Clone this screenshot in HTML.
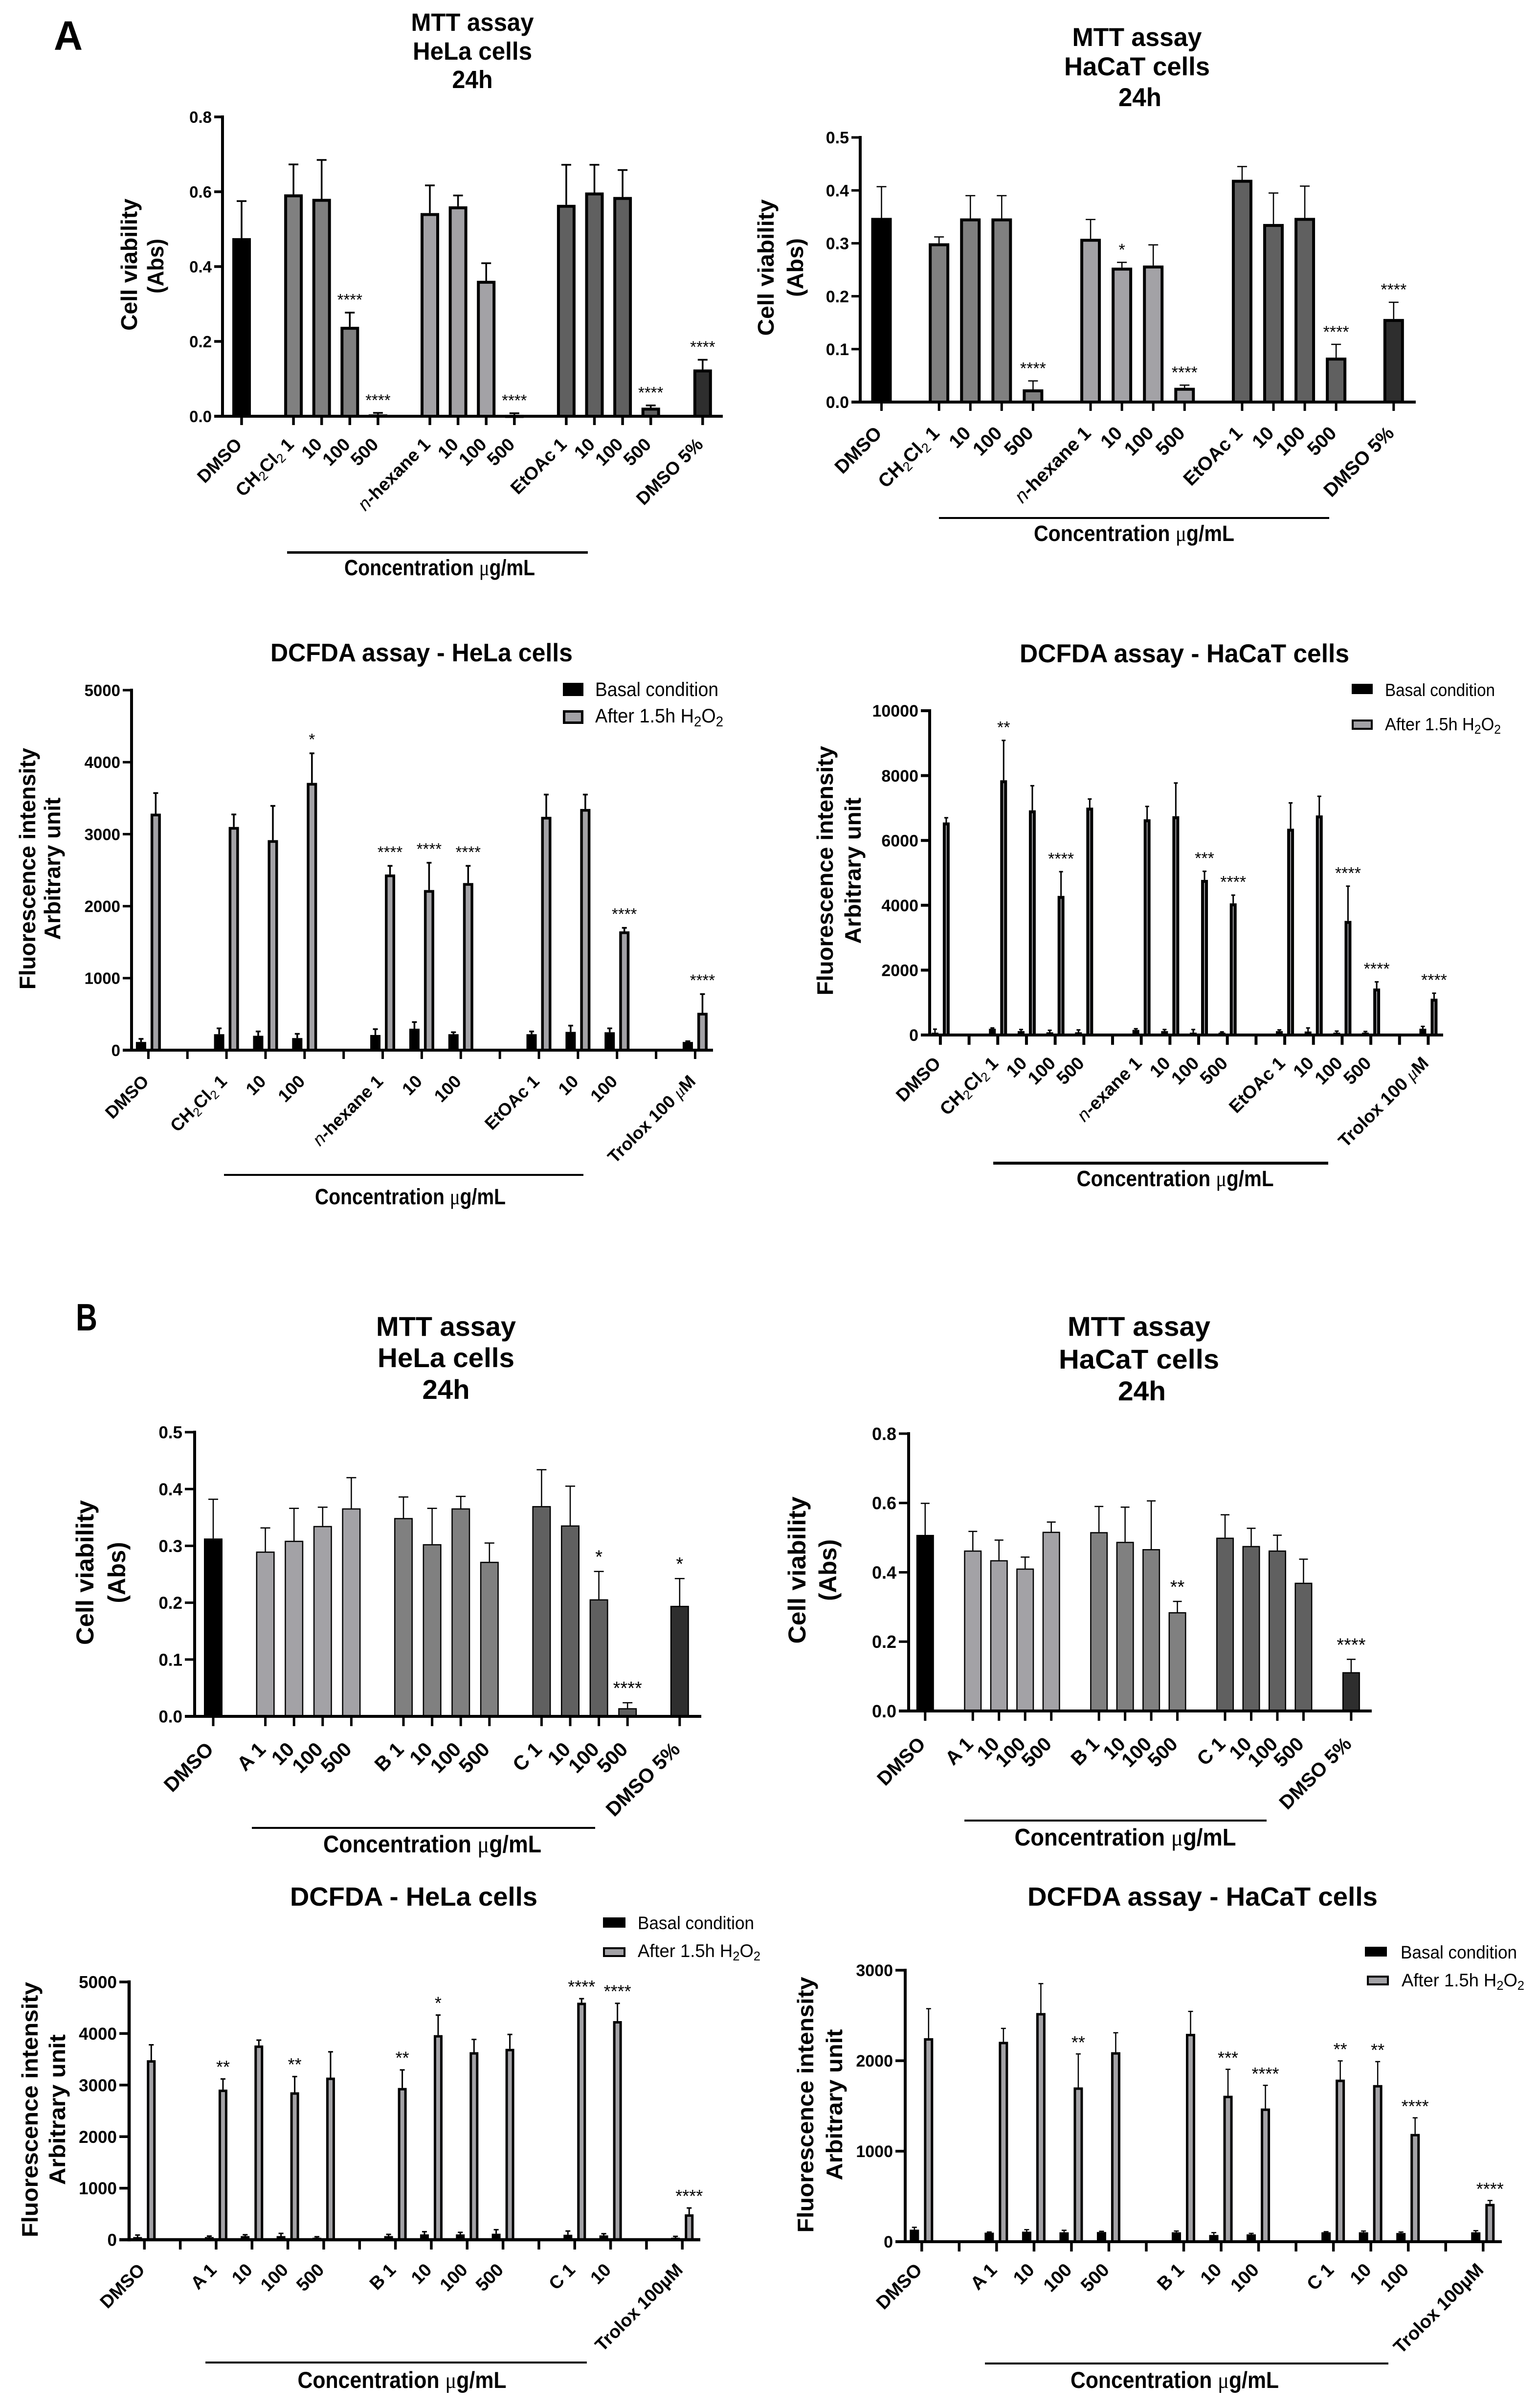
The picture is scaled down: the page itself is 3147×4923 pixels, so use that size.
<!DOCTYPE html>
<html lang="en">
<head>
<meta charset="utf-8">
<title>MTT and DCFDA assay bar charts</title>
<style>
html,body{margin:0;padding:0;background:#fff;width:3147px;height:4923px;overflow:hidden}
svg{display:block}
text{font-family:"Liberation Sans",sans-serif;fill:#000}
.bold{font-weight:700}
</style>
</head>
<body>
<svg id="figure" xmlns="http://www.w3.org/2000/svg" width="3147" height="4923" viewBox="0 0 3147 4923">
<rect width="3147" height="4923" fill="#fff"/>

<text class="bold" x="110" y="102" font-size="84" textLength="59" lengthAdjust="spacingAndGlyphs">A</text>
<text class="bold" x="155" y="2720" font-size="78" textLength="44" lengthAdjust="spacingAndGlyphs">B</text>

<!-- Chart A1 -->
<g id="a1">
<g text-anchor="middle">
<text class="bold" x="966" y="63" font-size="51" textLength="251" lengthAdjust="spacingAndGlyphs">MTT assay</text>
<text class="bold" x="966" y="122" font-size="51" textLength="244" lengthAdjust="spacingAndGlyphs">HeLa cells</text>
<text class="bold" x="966" y="180" font-size="51" textLength="83" lengthAdjust="spacingAndGlyphs">24h</text>
</g>
<text class="bold" text-anchor="middle" transform="translate(280,541) rotate(-90)" font-size="46" textLength="270" lengthAdjust="spacingAndGlyphs">Cell viability</text>
<text class="bold" text-anchor="middle" transform="translate(334,544) rotate(-90)" font-size="46" textLength="112" lengthAdjust="spacingAndGlyphs">(Abs)</text>
<rect x="587" y="1127" width="615" height="5" fill="#000"/>
<text class="bold" x="899" y="1176" text-anchor="middle" font-size="45" textLength="390" lengthAdjust="spacingAndGlyphs">Concentration <tspan font-weight="400" font-family="Liberation Serif">μ</tspan>g/mL</text>
</g>

<!-- Chart A2 -->
<g id="a2">
<g text-anchor="middle">
<text class="bold" x="2325" y="94" font-size="53" textLength="265" lengthAdjust="spacingAndGlyphs">MTT assay</text>
<text class="bold" x="2325" y="154" font-size="53" textLength="298" lengthAdjust="spacingAndGlyphs">HaCaT cells</text>
<text class="bold" x="2331" y="217" font-size="53" textLength="88" lengthAdjust="spacingAndGlyphs">24h</text>
</g>
<text class="bold" text-anchor="middle" transform="translate(1582,547) rotate(-90)" font-size="46" textLength="279" lengthAdjust="spacingAndGlyphs">Cell viability</text>
<text class="bold" text-anchor="middle" transform="translate(1642,547) rotate(-90)" font-size="46" textLength="120" lengthAdjust="spacingAndGlyphs">(Abs)</text>
<rect x="1920" y="1057" width="798" height="4" fill="#000"/>
<text class="bold" x="2319" y="1106" text-anchor="middle" font-size="45" textLength="410" lengthAdjust="spacingAndGlyphs">Concentration <tspan font-weight="400" font-family="Liberation Serif">μ</tspan>g/mL</text>
</g>

<!-- Chart A3 -->
<g id="a3">
<text class="bold" x="862" y="1352" text-anchor="middle" font-size="52" textLength="618" lengthAdjust="spacingAndGlyphs">DCFDA assay - HeLa cells</text>
<text class="bold" text-anchor="middle" transform="translate(72,1776) rotate(-90)" font-size="46" textLength="494" lengthAdjust="spacingAndGlyphs">Fluorescence intensity</text>
<text class="bold" text-anchor="middle" transform="translate(123,1776) rotate(-90)" font-size="46" textLength="291" lengthAdjust="spacingAndGlyphs">Arbitrary unit</text>
<g>
<rect x="1151" y="1396" width="42" height="27" fill="#000"/>
<text x="1217" y="1423" font-size="40" textLength="252" lengthAdjust="spacingAndGlyphs">Basal condition</text>
<rect x="1153.5" y="1454.5" width="37" height="23" fill="#a3a2a6" stroke="#000" stroke-width="5"/>
<text x="1217" y="1477" font-size="40" textLength="262" lengthAdjust="spacingAndGlyphs">After 1.5h H<tspan dy="8" font-size="29">2</tspan><tspan dy="-8">O</tspan><tspan dy="8" font-size="29">2</tspan></text>
</g>
<rect x="458" y="2400" width="735" height="4" fill="#000"/>
<text class="bold" x="839" y="2462" text-anchor="middle" font-size="45" textLength="390" lengthAdjust="spacingAndGlyphs">Concentration <tspan font-weight="400" font-family="Liberation Serif">μ</tspan>g/mL</text>
</g>

<!-- Chart A4 -->
<g id="a4">
<text class="bold" x="2422" y="1354" text-anchor="middle" font-size="53" textLength="674" lengthAdjust="spacingAndGlyphs">DCFDA assay - HaCaT cells</text>
<text class="bold" text-anchor="middle" transform="translate(1703,1780) rotate(-90)" font-size="46" textLength="510" lengthAdjust="spacingAndGlyphs">Fluorescence intensity</text>
<text class="bold" text-anchor="middle" transform="translate(1760,1780) rotate(-90)" font-size="46" textLength="299" lengthAdjust="spacingAndGlyphs">Arbitrary unit</text>
<g>
<rect x="2764" y="1398" width="43" height="21" fill="#000"/>
<text x="2832" y="1423" font-size="36" textLength="225" lengthAdjust="spacingAndGlyphs">Basal condition</text>
<rect x="2766" y="1473" width="39" height="17" fill="#a3a2a6" stroke="#000" stroke-width="4"/>
<text x="2832" y="1493" font-size="36" textLength="237" lengthAdjust="spacingAndGlyphs">After 1.5h H<tspan dy="7" font-size="26">2</tspan><tspan dy="-7">O</tspan><tspan dy="7" font-size="26">2</tspan></text>
</g>
<rect x="2031" y="2375" width="685" height="6" fill="#000"/>
<text class="bold" x="2403" y="2425" text-anchor="middle" font-size="45" textLength="403" lengthAdjust="spacingAndGlyphs">Concentration <tspan font-weight="400" font-family="Liberation Serif">μ</tspan>g/mL</text>
</g>

<!-- Chart B1 -->
<g id="b1">
<g text-anchor="middle">
<text class="bold" x="912" y="2731" font-size="56" textLength="286" lengthAdjust="spacingAndGlyphs">MTT assay</text>
<text class="bold" x="912" y="2795" font-size="56" textLength="280" lengthAdjust="spacingAndGlyphs">HeLa cells</text>
<text class="bold" x="912" y="2860" font-size="56" textLength="97" lengthAdjust="spacingAndGlyphs">24h</text>
</g>
<text class="bold" text-anchor="middle" transform="translate(191,3215) rotate(-90)" font-size="50" textLength="296" lengthAdjust="spacingAndGlyphs">Cell viability</text>
<text class="bold" text-anchor="middle" transform="translate(256,3215) rotate(-90)" font-size="50" textLength="125" lengthAdjust="spacingAndGlyphs">(Abs)</text>
<rect x="515" y="3735" width="702" height="4" fill="#000"/>
<text class="bold" x="884" y="3787" text-anchor="middle" font-size="49" textLength="446" lengthAdjust="spacingAndGlyphs">Concentration <tspan font-weight="400" font-family="Liberation Serif">μ</tspan>g/mL</text>
</g>

<!-- Chart B2 -->
<g id="b2">
<g text-anchor="middle">
<text class="bold" x="2329" y="2731" font-size="56" textLength="292" lengthAdjust="spacingAndGlyphs">MTT assay</text>
<text class="bold" x="2329" y="2798" font-size="56" textLength="328" lengthAdjust="spacingAndGlyphs">HaCaT cells</text>
<text class="bold" x="2335" y="2863" font-size="56" textLength="98" lengthAdjust="spacingAndGlyphs">24h</text>
</g>
<text class="bold" text-anchor="middle" transform="translate(1647,3210) rotate(-90)" font-size="50" textLength="301" lengthAdjust="spacingAndGlyphs">Cell viability</text>
<text class="bold" text-anchor="middle" transform="translate(1710,3210) rotate(-90)" font-size="50" textLength="126" lengthAdjust="spacingAndGlyphs">(Abs)</text>
<rect x="1972" y="3720" width="618" height="4" fill="#000"/>
<text class="bold" x="2301" y="3773" text-anchor="middle" font-size="49" textLength="453" lengthAdjust="spacingAndGlyphs">Concentration <tspan font-weight="400" font-family="Liberation Serif">μ</tspan>g/mL</text>
</g>

<!-- Chart B3 -->
<g id="b3">
<text class="bold" x="846" y="3896" text-anchor="middle" font-size="54" textLength="506" lengthAdjust="spacingAndGlyphs">DCFDA - HeLa cells</text>
<text class="bold" text-anchor="middle" transform="translate(77,4313) rotate(-90)" font-size="46" textLength="522" lengthAdjust="spacingAndGlyphs">Fluorescence intensity</text>
<text class="bold" text-anchor="middle" transform="translate(133,4313) rotate(-90)" font-size="46" textLength="308" lengthAdjust="spacingAndGlyphs">Arbitrary unit</text>
<g>
<rect x="1233" y="3920" width="46" height="21" fill="#000"/>
<text x="1304" y="3944" font-size="37" textLength="238" lengthAdjust="spacingAndGlyphs">Basal condition</text>
<rect x="1235" y="3983" width="42" height="16" fill="#a3a2a6" stroke="#000" stroke-width="4"/>
<text x="1304" y="4001" font-size="37" textLength="251" lengthAdjust="spacingAndGlyphs">After 1.5h H<tspan dy="7" font-size="26">2</tspan><tspan dy="-7">O</tspan><tspan dy="7" font-size="26">2</tspan></text>
</g>
<rect x="420" y="4828" width="780" height="4" fill="#000"/>
<text class="bold" x="822" y="4882" text-anchor="middle" font-size="47" textLength="427" lengthAdjust="spacingAndGlyphs">Concentration <tspan font-weight="400" font-family="Liberation Serif">μ</tspan>g/mL</text>
</g>

<!-- Chart B4 -->
<g id="b4">
<text class="bold" x="2459" y="3896" text-anchor="middle" font-size="54" textLength="716" lengthAdjust="spacingAndGlyphs">DCFDA assay - HaCaT cells</text>
<text class="bold" text-anchor="middle" transform="translate(1663,4303) rotate(-90)" font-size="46" textLength="523" lengthAdjust="spacingAndGlyphs">Fluorescence intensity</text>
<text class="bold" text-anchor="middle" transform="translate(1722,4303) rotate(-90)" font-size="46" textLength="309" lengthAdjust="spacingAndGlyphs">Arbitrary unit</text>
<g>
<rect x="2791" y="3980" width="45" height="20" fill="#000"/>
<text x="2864" y="4004" font-size="37" textLength="238" lengthAdjust="spacingAndGlyphs">Basal condition</text>
<rect x="2797" y="4041" width="41" height="16" fill="#a3a2a6" stroke="#000" stroke-width="4"/>
<text x="2866" y="4061" font-size="37" textLength="251" lengthAdjust="spacingAndGlyphs">After 1.5h H<tspan dy="7" font-size="26">2</tspan><tspan dy="-7">O</tspan><tspan dy="7" font-size="26">2</tspan></text>
</g>
<rect x="2014" y="4830" width="825" height="4" fill="#000"/>
<text class="bold" x="2402" y="4882" text-anchor="middle" font-size="47" textLength="426" lengthAdjust="spacingAndGlyphs">Concentration <tspan font-weight="400" font-family="Liberation Serif">μ</tspan>g/mL</text>
</g>
</svg>

<script>
/* ---------- Chart data ---------- */
const a1Categories = ['DMSO','CH₂Cl₂ 1','10','100','500','n-hexane 1','10','100','500','EtOAc 1','10','100','500','DMSO 5%'];
const a1Groups = [0,1,1,1,1,2,2,2,2,3,3,3,3,4];
const a1Shades = ['control','mid','light','dark','darkest'];
const a1Values = [0.476,0.593,0.581,0.239,0.005,0.543,0.561,0.362,0.004,0.565,0.598,0.586,0.023,0.125];
const a1ErrorTops = [0.575,0.673,0.685,0.277,0.009,0.617,0.590,0.409,0.008,0.672,0.672,0.658,0.029,0.151];
const a1Sig = ['','','','****','****','','','','****','','','','****','****'];
const a1YTicks = [0,0.2,0.4,0.6,0.8];

const a2Categories = ['DMSO','CH₂Cl₂ 1','10','100','500','n-hexane 1','10','100','500','EtOAc 1','10','100','500','DMSO 5%'];
const a2Groups = [0,1,1,1,1,2,2,2,2,3,3,3,3,4];
const a2Shades = ['control','mid','light','dark','darkest'];
const a2Values = [0.348,0.300,0.347,0.347,0.024,0.3085,0.254,0.258,0.027,0.420,0.3365,0.348,0.084,0.157];
const a2ErrorTops = [0.407,0.312,0.390,0.390,0.040,0.345,0.264,0.297,0.032,0.445,0.395,0.408,0.109,0.1885];
const a2Sig = ['','','','','****','','*','','****','','','','****','****'];
const a2YTicks = [0,0.1,0.2,0.3,0.4,0.5];

const a3Categories = ['DMSO',null,'CH₂Cl₂ 1','10','100',null,'n-hexane 1','10','100',null,'EtOAc 1','10','100',null,'Trolox 100 μM'];
const a3Basal = [114,null,222,200,168,null,211,298,222,null,222,254,249,null,114];
const a3BasalTops = [157,null,303,260,227,null,292,390,249,null,260,341,303,null,124];
const a3Treated = [3285,null,3100,2917,3712,null,2440,2224,2321,null,3241,3350,1650,null,519];
const a3TreatedTops = [3571,null,3274,3393,4123,null,2560,2603,2560,null,3550,3550,1699,null,779];
const a3Sig = ['',null,'','','*',null,'****','****','****',null,'','','****',null,'****'];
const a3YTicks = [0,1000,2000,3000,4000,5000];

const a4Categories = ['DMSO',null,'CH₂Cl₂ 1','10','100','500',null,'n-exane 1','10','100','500',null,'EtOAc 1','10','100','500',null,'Trolox 100 μM'];
const a4Basal = [72,null,193,120,84,84,null,157,120,72,72,null,120,108,72,72,null,193];
const a4BasalTops = [180,null,217,169,145,157,null,193,169,169,96,null,157,217,120,108,null,265];
const a4Treated = [6554,null,7855,6928,4289,7012,null,6651,6747,4783,4060,null,6361,6771,3518,1434,null,1120];
const a4TreatedTops = [6699,null,9084,7687,5036,7277,null,7048,7771,5048,4313,null,7157,7361,4590,1639,null,1289];
const a4Sig = ['',null,'**','','****','',null,'','','***','****',null,'','','****','****',null,'****'];
const a4YTicks = [0,2000,4000,6000,8000,10000];

const b1Categories = ['DMSO','A 1','10','100','500','B 1','10','100','500','C 1','10','100','500','DMSO 5%'];
const b1Groups = [0,1,1,1,1,2,2,2,2,3,3,3,3,4];
const b1Shades = ['control','light','mid','dark','darkest'];
const b1Values = [0.313,0.290,0.309,0.335,0.366,0.349,0.303,0.366,0.272,0.370,0.336,0.206,0.0144,0.1945];
const b1ErrorTops = [0.382,0.3315,0.366,0.368,0.420,0.386,0.366,0.387,0.305,0.434,0.405,0.255,0.024,0.2425];
const b1Sig = ['','','','','','','','','','','','*','****','*'];
const b1YTicks = [0,0.1,0.2,0.3,0.4,0.5];

const b2Categories = ['DMSO','A 1','10','100','500','B 1','10','100','500','C 1','10','100','500','DMSO 5%'];
const b2Groups = [0,1,1,1,1,2,2,2,2,3,3,3,3,4];
const b2Shades = ['control','light','mid','dark','darkest'];
const b2Values = [0.508,0.463,0.435,0.411,0.517,0.516,0.488,0.467,0.285,0.500,0.476,0.463,0.370,0.112];
const b2ErrorTops = [0.599,0.518,0.493,0.444,0.545,0.590,0.588,0.606,0.316,0.566,0.527,0.507,0.438,0.149];
const b2Sig = ['','','','','','','','','**','','','','','****'];
const b2YTicks = [0,0.2,0.4,0.6,0.8];

const b3Categories = ['DMSO',null,'A 1','10','100','500',null,'B 1','10','100','500',null,'C 1','10',null,'Trolox 100µM'];
const b3Basal = [52,null,52,71,71,39,null,71,104,104,117,null,97,84,null,39];
const b3BasalTops = [91,null,71,97,123,58,null,104,156,143,195,null,169,117,null,65];
const b3Treated = [3482,null,2912,3768,2860,3145,null,2944,3969,3638,3703,null,4598,4241,null,493];
const b3TreatedTops = [3781,null,3119,3872,3165,3645,null,3294,4358,3885,3982,null,4676,4585,null,616];
const b3Sig = ['',null,'**','','**','',null,'**','*','','',null,'****','****',null,'****'];
const b3YTicks = [0,1000,2000,3000,4000,5000];

const b4Categories = ['DMSO',null,'A 1','10','100','500',null,'B 1','10','100',null,'C 1','10','100',null,'Trolox 100µM'];
const b4Basal = [133,null,100,111,104,107,null,104,74,81,null,104,104,96,null,104];
const b4BasalTops = [159,null,107,133,126,115,null,118,100,92,null,111,118,107,null,122];
const b4Treated = [2249,null,2209,2527,1705,2094,null,2297,1613,1472,null,1791,1731,1191,null,418];
const b4TreatedTops = [2575,null,2357,2852,2075,2309,null,2545,1905,1728,null,1998,1990,1369,null,455];
const b4Sig = ['',null,'','','**','',null,'','***','****',null,'**','**','****',null,'****'];
const b4YTicks = [0,1000,2000,3000];

/* ---------- Styling and layout (not data) ---------- */
const SHADE_FILL = {control:'#000000',light:'#a3a2a6',mid:'#808080',dark:'#606060',darkest:'#2e2e2e'};
const SVG_NS = 'http://www.w3.org/2000/svg';

function make(parent, tag, attrs){
  const node = document.createElementNS(SVG_NS, tag);
  for (const key in attrs) node.setAttribute(key, attrs[key]);
  parent.appendChild(node);
  return node;
}

function richLabel(node, str, size){
  let buffer = '';
  let shifted = 0;
  function flush(extra){
    if (!buffer && !extra) return;
    const span = make(node, 'tspan', extra || {});
    if (shifted && !(extra && extra['data-sub'])) { span.setAttribute('dy', -shifted); shifted = 0; }
    span.removeAttribute('data-sub');
    span.textContent = buffer;
    buffer = '';
  }
  for (let i = 0; i < str.length; i++) {
    const ch = str[i];
    if (ch === '₂') {
      flush();
      buffer = '2';
      const dy = Math.round(size * 0.2);
      flush({'dy': dy, 'font-size': Math.round(size * 0.7), 'font-weight': 400, 'data-sub': '1'});
      shifted = dy;
    } else if (ch === 'μ') {
      flush();
      buffer = 'μ';
      flush({'font-weight': 400, 'font-family': 'Liberation Serif', 'font-style': 'italic'});
    } else if (i === 0 && ch === 'n' && str[1] === '-') {
      buffer = 'n';
      flush({'font-weight': 400, 'font-style': 'italic'});
    } else {
      buffer += ch;
    }
  }
  flush();
}

function linearY(cfg){
  return function(v){ return cfg.y0 - v / cfg.yMax * (cfg.y0 - cfg.yTop); };
}

function drawYAxis(group, cfg, ticks, yScale){
  ticks.forEach(function(t){
    const tick = make(group, 'line', {x1: cfg.axisX - cfg.tickLen, x2: cfg.axisX, y1: yScale(t), y2: yScale(t), stroke: '#000', 'stroke-width': cfg.tickW});
    
    
    const label = make(group, 'text', {x: cfg.axisX - cfg.tickLen - 5, y: yScale(t) + cfg.yFont * 0.36, 'text-anchor': 'end', 'font-size': cfg.yFont, 'font-weight': 700});
    
    
    label.textContent = t.toFixed(cfg.decimals);
  });
  const axis = make(group, 'line', {x1: cfg.axisX, x2: cfg.axisX, y1: cfg.yTop - cfg.axisW / 2, y2: cfg.y0 + cfg.axisW / 2, stroke: '#000', 'stroke-width': cfg.axisW});
  
  
}

function drawXAxis(group, cfg, categories, xScale){
  const axis = make(group, 'line', {x1: cfg.axisX - cfg.tickLen, x2: cfg.xEnd, y1: cfg.y0, y2: cfg.y0, stroke: '#000', 'stroke-width': cfg.axisW});
  
  
  categories.forEach(function(cat, i){
    const x = xScale(i);
    const tick = make(group, 'line', {x1: x, x2: x, y1: cfg.y0, y2: cfg.y0 + cfg.xTickLen, stroke: '#000', 'stroke-width': cfg.tickW});
    
    
    if (cat === null) return;
    const ax = x + cfg.labelDx;
    const ay = cfg.y0 + cfg.labelDy;
    const label = make(group, 'text', {x: ax, y: ay, 'text-anchor': 'end', 'font-size': cfg.xFont, 'font-weight': 700, transform: 'rotate(-45 ' + ax + ' ' + ay + ')'});
    
    
    richLabel(label, cat, cfg.xFont);
  });
}

function drawBar(group, cfg, cx, value, top, fill, yScale, width, stroke){
  const err = make(group, 'line', {x1: cx, x2: cx, y1: yScale(value), y2: yScale(top), stroke: '#000', 'stroke-width': cfg.errW});
  
  
  const cap = make(group, 'line', {x1: cx - cfg.capHalf, x2: cx + cfg.capHalf, y1: yScale(top), y2: yScale(top), stroke: '#000', 'stroke-width': cfg.errW});
  
  
  const y = yScale(value);
  const bar = make(group, 'rect', {x: cx - width / 2 + stroke / 2, y: y + stroke / 2, width: Math.max(width - stroke, 0.5), height: Math.max(cfg.y0 - y - stroke / 2, 0.5), fill: fill, stroke: '#000', 'stroke-width': stroke});
  
  
}

function drawStars(group, cfg, cx, top, sig, yScale){
  if (!sig) return;
  const star = make(group, 'text', {x: cx, y: yScale(top) - cfg.starGap + cfg.starFont * 0.55, 'text-anchor': 'middle', 'font-size': cfg.starFont});
  
  
  star.textContent = sig;
}

function drawSingleChart(id, cfg, categories, groups, shades, values, tops, sig, yTicks){
  const group = document.getElementById(id);
  const yScale = linearY(cfg);
  const xScale = function(i){ return cfg.x0 + cfg.step * i + cfg.gap * groups[i]; };
  values.forEach(function(v, i){
    drawBar(group, cfg, xScale(i), v, tops[i], SHADE_FILL[shades[groups[i]]], yScale, cfg.barW, cfg.barStroke);
    drawStars(group, cfg, xScale(i), tops[i], sig[i], yScale);
  });
  drawYAxis(group, cfg, yTicks, yScale);
  drawXAxis(group, cfg, categories, xScale);
}

function drawPairedChart(id, cfg, categories, basal, basalTops, treated, treatedTops, sig, yTicks){
  const group = document.getElementById(id);
  const yScale = linearY(cfg);
  const xScale = function(i){ return cfg.x0 + cfg.step * i; };
  categories.forEach(function(cat, i){
    if (cat === null) return;
    drawBar(group, cfg, xScale(i) + cfg.basalOffset, basal[i], basalTops[i], '#000000', yScale, cfg.barW, cfg.barStroke);
    drawBar(group, cfg, xScale(i) + cfg.treatedOffset, treated[i], treatedTops[i], '#a3a2a6', yScale, cfg.barW, cfg.barStroke);
    drawStars(group, cfg, xScale(i) + cfg.treatedOffset, treatedTops[i], sig[i], yScale);
  });
  drawYAxis(group, cfg, yTicks, yScale);
  drawXAxis(group, cfg, categories, xScale);
}

drawSingleChart('a1', {axisX:455,yTop:239,y0:851,yMax:0.8,xEnd:1478,x0:494,step:57.6,gap:48.5,barW:38,barStroke:6,errW:3.5,capHalf:10,tickLen:17,xTickLen:18,tickW:5.5,axisW:6,decimals:1,yFont:33,xFont:37,labelDx:3,labelDy:60,starFont:33,starGap:33}, a1Categories, a1Groups, a1Shades, a1Values, a1ErrorTops, a1Sig, a1YTicks);
drawSingleChart('a2', {axisX:1759,yTop:281,y0:822,yMax:0.5,xEnd:2895,x0:1802.5,step:64.07,gap:53.6,barW:42,barStroke:6,errW:2.5,capHalf:10,tickLen:18,xTickLen:18,tickW:5,axisW:6,decimals:1,yFont:34,xFont:39,labelDx:3,labelDy:66,starFont:34,starGap:33}, a2Categories, a2Groups, a2Shades, a2Values, a2ErrorTops, a2Sig, a2YTicks);
drawPairedChart('a3', {axisX:269,yTop:1411,y0:2147,yMax:5000,xEnd:1458,x0:303.4,step:79.86,basalOffset:-15,treatedOffset:15,barW:21,barStroke:5.5,errW:3.5,capHalf:5,tickLen:18,xTickLen:18,tickW:5,axisW:6,decimals:0,yFont:33,xFont:36,labelDx:3,labelDy:66,starFont:33,starGap:35}, a3Categories, a3Basal, a3BasalTops, a3Treated, a3TreatedTops, a3Sig, a3YTicks);
drawPairedChart('a4', {axisX:1901,yTop:1453,y0:2116,yMax:10000,xEnd:2951,x0:1922.9,step:58.68,basalOffset:-11,treatedOffset:12,barW:14,barStroke:6,errW:3,capHalf:4,tickLen:18,xTickLen:20,tickW:6,axisW:6,decimals:0,yFont:34,xFont:37,labelDx:3,labelDy:60,starFont:34,starGap:34}, a4Categories, a4Basal, a4BasalTops, a4Treated, a4TreatedTops, a4Sig, a4YTicks);
drawSingleChart('b1', {axisX:398,yTop:2928,y0:3509,yMax:0.5,xEnd:1434,x0:436,step:58.6,gap:48,barW:38,barStroke:2.5,errW:2.5,capHalf:10,tickLen:20,xTickLen:20,tickW:5,axisW:6,decimals:1,yFont:35,xFont:41,labelDx:3,labelDy:70,starFont:38,starGap:38}, b1Categories, b1Groups, b1Shades, b1Values, b1ErrorTops, b1Sig, b1YTicks);
drawSingleChart('b2', {axisX:1858,yTop:2931,y0:3498,yMax:0.8,xEnd:2805,x0:1891.8,step:53.47,gap:44,barW:36,barStroke:2.5,errW:2.5,capHalf:9,tickLen:20,xTickLen:20,tickW:5,axisW:6,decimals:1,yFont:36,xFont:40,labelDx:3,labelDy:70,starFont:38,starGap:38}, b2Categories, b2Groups, b2Shades, b2Values, b2ErrorTops, b2Sig, b2YTicks);
drawPairedChart('b3', {axisX:264,yTop:4052,y0:4579,yMax:5000,xEnd:1432,x0:295.3,step:73.33,basalOffset:-14,treatedOffset:14,barW:18,barStroke:5,errW:3,capHalf:5,tickLen:20,xTickLen:20,tickW:5.5,axisW:6.5,decimals:0,yFont:35,xFont:37,labelDx:3,labelDy:64,starFont:36,starGap:32}, b3Categories, b3Basal, b3BasalTops, b3Treated, b3TreatedTops, b3Sig, b3YTicks);
drawPairedChart('b4', {axisX:1851,yTop:4028,y0:4583,yMax:3000,xEnd:3071,x0:1884.8,step:76.53,basalOffset:-15,treatedOffset:14,barW:19,barStroke:5,errW:2.5,capHalf:5,tickLen:20,xTickLen:20,tickW:5.5,axisW:6,decimals:0,yFont:34,xFont:38,labelDx:3,labelDy:60,starFont:36,starGap:31}, b4Categories, b4Basal, b4BasalTops, b4Treated, b4TreatedTops, b4Sig, b4YTicks);
</script>
</body>
</html>
